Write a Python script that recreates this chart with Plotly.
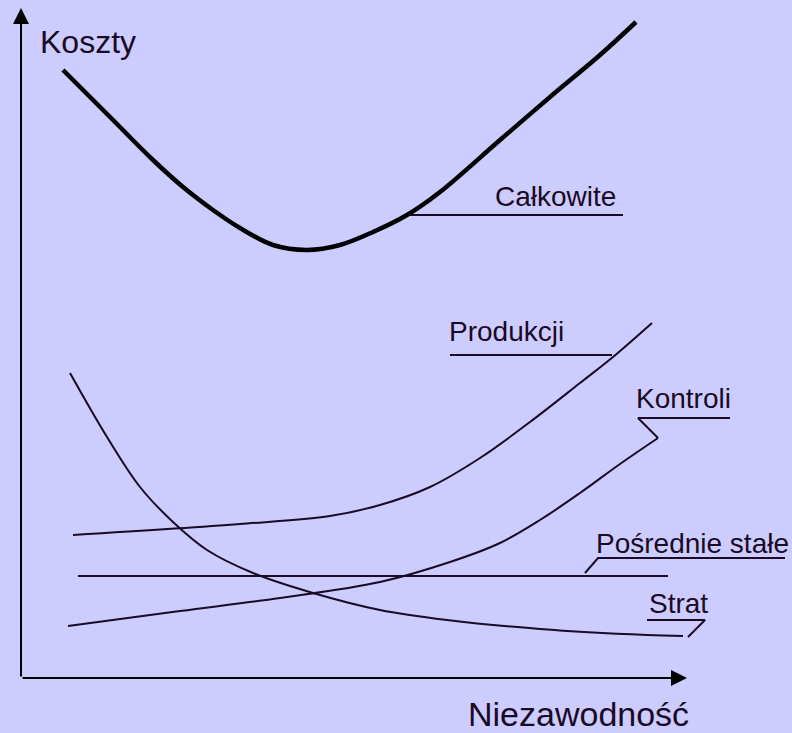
import plotly.graph_objects as go

# Chart coordinates: x = reliability (0..792 units), y = cost (0..733 units, up)
H = 733

# Total cost curve (Całkowite)
total_x = [63, 113, 153, 183, 213, 240, 273, 307, 340, 373, 407, 440, 500, 550, 600, 636]
total_y = [663, 613, 573, 546, 523, 505, 488, 483, 488, 501, 518, 541, 593, 636, 678, 711]

# Production cost (Produkcji)
prod_x = [73, 240, 330, 380, 430, 480, 530, 580, 613, 652]
prod_y = [198, 209, 217, 228, 246, 275, 311, 350, 376, 410]

# Control cost (Kontroli)
ctrl_x = [68, 180, 280, 380, 450, 500, 540, 580, 620, 658]
ctrl_y = [107, 122, 135, 151, 171, 190, 213, 240, 269, 295]

# Indirect fixed cost (Pośrednie stałe)
fixed_x = [78, 668]
fixed_y = [157, 157]

# Loss cost (Strat)
loss_x = [70, 107, 140, 173, 207, 253, 313, 380, 447, 540, 647, 683]
loss_y = [360, 296, 246, 211, 183, 160, 140, 123, 113, 104, 98, 97]

# Label leader lines
lead_total_x = [410, 623]
lead_total_y = [518, 518]
lead_prod_x = [450, 612]
lead_prod_y = [378, 378]
lead_ctrl_x = [658, 638, 730]
lead_ctrl_y = [295, 315, 315]
lead_fixed_x = [585, 598, 785]
lead_fixed_y = [160, 175, 175]
lead_loss_x = [688, 705, 647]
lead_loss_y = [96, 113, 113]

labels = ["Całkowite", "Produkcji", "Kontroli", "Pośrednie stałe", "Strat"]
label_x = [493, 447, 634, 594, 647]
label_y = [537, 402, 335, 190, 130]

axis_title_x = "Niezawodność"
axis_title_y = "Koszty"

LINE = "#1a0a24"
BG = "#ccccff"
FONT = "Liberation Sans, Arial, sans-serif"

fig = go.Figure()

def add_line(x, y, width=2, color=LINE, shape="spline"):
    fig.add_trace(go.Scatter(x=x, y=y, mode="lines",
                             line=dict(color=color, width=width, shape=shape, smoothing=1.0),
                             hoverinfo="skip", showlegend=False))

add_line(total_x, total_y, width=4.5, color="#000000")
add_line(prod_x, prod_y)
add_line(ctrl_x, ctrl_y)
add_line(fixed_x, fixed_y, shape="linear")
add_line(loss_x, loss_y)
for lx, ly in [(lead_total_x, lead_total_y), (lead_prod_x, lead_prod_y),
               (lead_ctrl_x, lead_ctrl_y), (lead_fixed_x, lead_fixed_y),
               (lead_loss_x, lead_loss_y)]:
    add_line(lx, ly, shape="linear")

# Axes with arrowheads
axis_origin = (21, H - 678)
fig.add_annotation(x=21, y=H - 8, ax=axis_origin[0], ay=axis_origin[1],
                   xref="x", yref="y", axref="x", ayref="y",
                   showarrow=True, arrowhead=2, arrowsize=1.6, arrowwidth=2,
                   arrowcolor="#000000", text="")
fig.add_annotation(x=687, y=axis_origin[1], ax=axis_origin[0], ay=axis_origin[1],
                   xref="x", yref="y", axref="x", ayref="y",
                   showarrow=True, arrowhead=2, arrowsize=1.6, arrowwidth=2,
                   arrowcolor="#000000", text="")

fig.add_annotation(x=38, y=H - 42, text=axis_title_y, showarrow=False,
                   xanchor="left", yanchor="middle",
                   font=dict(family=FONT, size=32, color=LINE))
fig.add_annotation(x=466, y=H - 714, text=axis_title_x, showarrow=False,
                   xanchor="left", yanchor="middle",
                   font=dict(family=FONT, size=34, color=LINE))

for t, x, y in zip(labels, label_x, label_y):
    fig.add_annotation(x=x, y=y, text=t, showarrow=False,
                       xanchor="left", yanchor="middle",
                       font=dict(family=FONT, size=28, color=LINE))

fig.update_layout(
    width=792, height=733,
    margin=dict(l=0, r=0, t=0, b=0),
    paper_bgcolor=BG, plot_bgcolor=BG,
    xaxis=dict(range=[0, 792], visible=False, fixedrange=True),
    yaxis=dict(range=[0, H], visible=False, fixedrange=True),
)

fig.write_html("out.html", config={"displayModeBar": False},
               post_script="document.body.style.margin='0';"
                           "document.body.style.overflow='hidden';"
                           "document.body.style.background='" + BG + "';")
